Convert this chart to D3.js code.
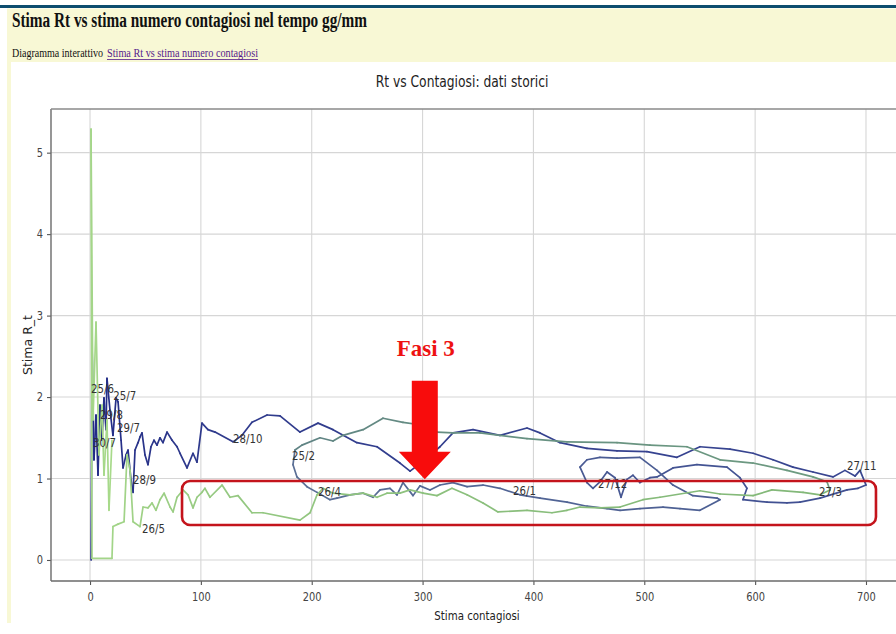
<!DOCTYPE html>
<html>
<head>
<meta charset="utf-8">
<script src="https://cdn.jsdelivr.net/npm/d3@7"></script>
<style>
  html, body { margin: 0; padding: 0; background: #fff; }
  svg { display: block; }
</style>
</head>
<body>
<svg id="page" width="896" height="634"></svg>
<script>
// punti stimati [contagiosi, Rt]
const estateAutunno = [
  [1,0],[1.8,2.66],[3.6,1.23],[5.4,1.78],[7.2,1.04],[9,1.9],[10.8,1.47],[12.6,1.99],[14.4,1.6],
  [15.3,2.23],[18,1.84],[20.7,1.53],[23.5,1.99],[25.3,1.94],[28,1.47],[29.8,1.13],[32.5,1.29],
  [34.3,1.35],[37,0.98],[38.8,0.83],[40.6,1.35],[43.3,1.44],[45.1,1.51],[46.9,1.56],[49.6,1.29],
  [52.3,1.17],[55,1.39],[57.7,1.47],[60.4,1.41],[63.1,1.5],[65.8,1.44],[69.5,1.57],[74,1.47],
  [78.5,1.39],[81.2,1.31],[87.5,1.13],[92.9,1.31],[96.5,1.2],[101,1.68],[106.4,1.6],[112.8,1.57],
  [129,1.45],[137.1,1.53],[146.1,1.69],[159.7,1.78],[171.4,1.77],[189.4,1.57],[205.7,1.68],
  [219.2,1.6],[240.8,1.44],[258.9,1.39],[279.6,1.19],[288.7,1.09],[302.2,1.23],[315.7,1.39],
  [327.4,1.56],[345.5,1.6],[369.8,1.53],[394.2,1.62],[405.9,1.56],[424,1.44],[448.3,1.37],
  [475.4,1.34],[502.4,1.33],[529.5,1.26],[550.2,1.39],[577.3,1.36],[598.1,1.31],[616.1,1.23],
  [634.1,1.14],[652.2,1.08],[670.2,1.02],[681,1.1],[690.1,1.03],[694.6,1.1],[700,0.92]
];
const dicembreGennaio = [
  [700,0.92],[692.8,0.88],[682.9,0.86],[658.5,0.76],[640.4,0.71],[628.7,0.7],[610.7,0.71],
  [589,0.74],[592.6,0.88],[586.3,1.01],[574.6,1.14],[547.5,1.17],[525.9,1.13],[511.5,1.02],
  [505.1,1.01],[496.1,0.95],[489.8,1.04],[484.4,0.99],[479,0.77],[473.6,1.01],[466.4,1.08],
  [460,0.96],[453.7,0.88],[448.3,0.95],[442,1.14],[448.3,1.23],[460,1.26],[475.4,1.25],
  [496.1,1.26],[511.5,1.1],[525.9,0.92],[543.9,0.79],[565.6,0.76],[568.3,0.74],[550.2,0.61],
  [532.2,0.63],[516.9,0.65],[496.1,0.63],[478.1,0.61],[466.4,0.63],[448.3,0.66],[430.3,0.71],
  [405.9,0.76],[387.9,0.8],[369.8,0.88],[354.5,0.92],[340.1,0.9],[327.4,0.95],[315.7,0.92],
  [306.7,0.86],[297.7,0.91],[291.4,0.79],[282.3,0.95],[276.9,0.8],[270.6,0.88],[261.6,0.86],
  [255.3,0.77],[246.3,0.82],[234.5,0.8],[222.8,0.76],[216.5,0.74],[204.8,0.83],[195.7,0.9],
  [186.7,1.02],[183.1,1.17],[184.9,1.35]
];
const febbraioMarzo = [
  [184.9,1.35],[191.2,1.41],[207.5,1.5],[219.2,1.46],[228.2,1.53],[246.3,1.6],[264.3,1.74],
  [282.3,1.69],[297.7,1.66],[313,1.57],[327.4,1.56],[351.8,1.56],[394.2,1.49],[430.3,1.45],
  [475.4,1.44],[505.1,1.41],[538.5,1.39],[568.3,1.23],[598.1,1.19],[628.7,1.1],[652.2,1.02],
  [664.8,0.96],[667.5,0.86]
];
const aprileLuglio = [
  [667.5,0.86],[658.5,0.8],[643.2,0.83],[615.2,0.86],[598.1,0.79],[568.3,0.81],[550.2,0.85],
  [514.2,0.77],[498.8,0.74],[478.1,0.65],[460,0.64],[442,0.65],[430.3,0.61],[416.7,0.58],
  [394.2,0.61],[368,0.59],[354.5,0.7],[340.1,0.8],[326.5,0.88],[313,0.79],[300.4,0.82],
  [288.7,0.86],[279.6,0.82],[267.9,0.82],[258.9,0.77],[246.3,0.82],[234.5,0.8],[219.2,0.82],
  [210.2,0.88],[204.8,0.8],[198.5,0.58],[189.4,0.49],[156.1,0.58],[146.1,0.58],[133.5,0.79],
  [126.3,0.77],[119.1,0.92],[108.2,0.77],[103.7,0.88],[101,0.83],[96.5,0.77],[92.9,0.64],
  [88.4,0.8],[83.9,0.86],[78.5,0.77],[74.9,0.59],[72.2,0.65],[66.8,0.82],[63.1,0.74],
  [59.5,0.61],[55.9,0.7],[52.3,0.64],[47.8,0.65],[45.1,0.41],[38.8,0.47],[36.1,1.1],
  [33.4,1.29],[30.7,0.47],[25.3,0.44],[20.7,0.41],[19.8,0.02],[1.8,0.02],[0.9,5.29],
  [2.7,1.72],[5.4,2.92],[8.1,1.29],[10.8,1.9],[12.6,1.04],[15.3,1.72],[17.1,0.61],[19.8,1.47]
];
const fasi = [estateAutunno, dicembreGennaio, febbraioMarzo, aprileLuglio];
const coloriFasi = [
  ["#222b87", "#3a4791"],
  ["#3f4e92", "#5b7096"],
  ["#5f8384", "#6f9d80"],
  ["#82b778", "#a8da8b"]
];

const etichette = [
  ["25/6", 0.9, 2.05], ["25/7", 21.0, 1.96], ["29/8", 9.0, 1.73], ["29/7", 24.4, 1.57],
  ["30/7", 2.7, 1.39], ["28/9", 38.8, 0.93], ["26/5", 46.9, 0.33], ["28/10", 129.0, 1.44],
  ["25/2", 182.2, 1.23], ["26/4", 205.7, 0.79], ["26/1", 381.6, 0.80], ["27/12", 458.2, 0.88],
  ["27/11", 682.9, 1.10], ["27/3", 657.6, 0.79]
];

const xTicks = [0, 100, 200, 300, 400, 500, 600, 700];
const yTicks = [0, 1, 2, 3, 4, 5];

// annotazioni in rosso (coordinate dati)
const riquadro = { x0: 83, x1: 709, y0: 0.43, y1: 0.97 };
const freccia = { xc: 302, top: 2.2, base: 1.33, tip: 0.99, shaft: 13, head: 26 };

const svg = d3.select("#page");
const SQ = 0.82;

function squeeze(sel, k) {
  sel.each(function () {
    const w = this.getComputedTextLength();
    d3.select(this).attr("textLength", w * k).attr("lengthAdjust", "spacingAndGlyphs");
  });
}

// --- page header ---
svg.append("rect").attr("x", 0).attr("y", 5).attr("width", 896).attr("height", 3).attr("fill", "#0d4d6f");
svg.append("rect").attr("x", 7).attr("y", 8.5).attr("width", 889).attr("height", 53.5).attr("fill", "#f8f8d5");
svg.append("rect").attr("x", 7).attr("y", 62).attr("width", 4).attr("height", 561).attr("fill", "#f8f8d5");

svg.append("text")
  .attr("x", 12).attr("y", 27)
  .attr("font-family", "Liberation Serif, serif").attr("font-weight", "bold").attr("font-size", 20)
  .attr("fill", "#111")
  .attr("textLength", 355).attr("lengthAdjust", "spacingAndGlyphs")
  .text("Stima Rt vs stima numero contagiosi nel tempo gg/mm");

svg.append("text")
  .attr("x", 12).attr("y", 57)
  .attr("font-family", "Liberation Serif, serif").attr("font-size", 11.5).attr("fill", "#111")
  .attr("textLength", 91).attr("lengthAdjust", "spacingAndGlyphs")
  .text("Diagramma interattivo");
svg.append("text")
  .attr("x", 107).attr("y", 57)
  .attr("font-family", "Liberation Serif, serif").attr("font-size", 11.5).attr("fill", "#551a8b")
  .attr("textLength", 151).attr("lengthAdjust", "spacingAndGlyphs")
  .text("Stima Rt vs stima numero contagiosi");
svg.append("line").attr("x1", 107).attr("x2", 258).attr("y1", 59.5).attr("y2", 59.5)
  .attr("stroke", "#551a8b").attr("stroke-width", 0.8);

// --- chart ---
const pLeft = 51, pRight = 910, pTop = 109, pBottom = 581;
const x = d3.scaleLinear().domain([-35.2, 739.7]).range([pLeft, pRight]);
const y = d3.scaleLinear().domain([-0.258, 5.536]).range([pBottom, pTop]);

svg.append("defs").append("clipPath").attr("id", "plot")
  .append("rect").attr("x", pLeft).attr("y", pTop).attr("width", pRight - pLeft).attr("height", pBottom - pTop);

// grid
const grid = svg.append("g").attr("stroke", "#d6d6d6").attr("stroke-width", 1.1);
grid.selectAll(".gx").data(xTicks).join("line").attr("class", "gx")
  .attr("x1", d => x(d)).attr("x2", d => x(d)).attr("y1", pTop).attr("y2", pBottom);
grid.selectAll(".gy").data(yTicks).join("line").attr("class", "gy")
  .attr("x1", pLeft).attr("x2", pRight).attr("y1", d => y(d)).attr("y2", d => y(d));

// lines, colour shifting with time
const plot = svg.append("g").attr("clip-path", "url(#plot)");
fasi.forEach((pts, k) => {
  const col = d3.interpolateRgb(coloriFasi[k][0], coloriFasi[k][1]);
  const segs = d3.pairs(pts);
  plot.append("g").selectAll("line").data(segs).join("line")
    .attr("x1", d => x(d[0][0])).attr("y1", d => y(d[0][1]))
    .attr("x2", d => x(d[1][0])).attr("y2", d => y(d[1][1]))
    .attr("stroke", (d, i) => col(i / Math.max(1, segs.length - 1)))
    .attr("stroke-width", 1.7)
    .attr("stroke-linecap", "round");
});

// date labels
const lab = svg.append("g").attr("font-family", "DejaVu Sans, sans-serif").attr("font-size", 12).attr("fill", "#333");
lab.selectAll("text").data(etichette).join("text")
  .attr("x", d => x(d[1])).attr("y", d => y(d[2]))
  .text(d => d[0])
  .call(squeeze, 0.85);

// axes
const ax = svg.append("g").attr("transform", `translate(0,${pBottom})`)
  .call(d3.axisBottom(x).tickValues(xTicks).tickSize(4).tickPadding(7).tickSizeOuter(0));
const ay = svg.append("g").attr("transform", `translate(${pLeft},0)`)
  .call(d3.axisLeft(y).tickValues(yTicks).tickFormat(d3.format("d")).tickSize(4).tickPadding(4).tickSizeOuter(0));
[ax, ay].forEach(g => {
  g.select(".domain").remove();
  g.selectAll(".tick line").attr("stroke", "#555").attr("stroke-width", 1.1);
  g.selectAll(".tick text").attr("font-family", "DejaVu Sans, sans-serif").attr("font-size", 12).attr("fill", "#444");
  g.selectAll(".tick text").call(squeeze, SQ);
});

// spines
const sp = svg.append("g").attr("stroke", "#6a6a6a").attr("stroke-width", 1.4).attr("fill", "none");
sp.append("line").attr("x1", pLeft).attr("x2", pLeft).attr("y1", pTop).attr("y2", pBottom);
sp.append("line").attr("x1", pLeft).attr("x2", 896).attr("y1", pBottom).attr("y2", pBottom);
sp.append("line").attr("x1", pLeft).attr("x2", 896).attr("y1", pTop).attr("y2", pTop).attr("stroke", "#8a8a8a");

// titles
svg.append("text").attr("x", 462).attr("y", 87).attr("text-anchor", "middle")
  .attr("font-family", "DejaVu Sans, sans-serif").attr("font-size", 15).attr("fill", "#222")
  .text("Rt vs Contagiosi: dati storici").call(squeeze, SQ);
svg.append("text").attr("x", 477).attr("y", 620).attr("text-anchor", "middle")
  .attr("font-family", "DejaVu Sans, sans-serif").attr("font-size", 12.5).attr("fill", "#222")
  .text("Stima contagiosi").call(squeeze, SQ);
svg.append("text").attr("transform", "translate(32,345) rotate(-90)").attr("text-anchor", "middle")
  .attr("font-family", "DejaVu Sans, sans-serif").attr("font-size", 12.5).attr("fill", "#222")
  .text("Stima R_t");

// red annotations
svg.append("rect")
  .attr("x", x(riquadro.x0)).attr("y", y(riquadro.y1))
  .attr("width", x(riquadro.x1) - x(riquadro.x0)).attr("height", y(riquadro.y0) - y(riquadro.y1))
  .attr("rx", 8).attr("fill", "none").attr("stroke", "#c4141c").attr("stroke-width", 2.6);

const xc = x(freccia.xc);
svg.append("path")
  .attr("d", `M${xc - freccia.shaft},${y(freccia.top)}
    L${xc + freccia.shaft},${y(freccia.top)}
    L${xc + freccia.shaft},${y(freccia.base)}
    L${xc + freccia.head},${y(freccia.base)}
    L${xc},${y(freccia.tip)}
    L${xc - freccia.head},${y(freccia.base)}
    L${xc - freccia.shaft},${y(freccia.base)}Z`)
  .attr("fill", "#f80c0c");

svg.append("text").attr("x", xc + 1).attr("y", 356).attr("text-anchor", "middle")
  .attr("font-family", "Liberation Serif, serif").attr("font-weight", "bold").attr("font-size", 23)
  .attr("fill", "#ee1111").attr("textLength", 58).attr("lengthAdjust", "spacingAndGlyphs")
  .text("Fasi 3");
</script>
</body>
</html>
